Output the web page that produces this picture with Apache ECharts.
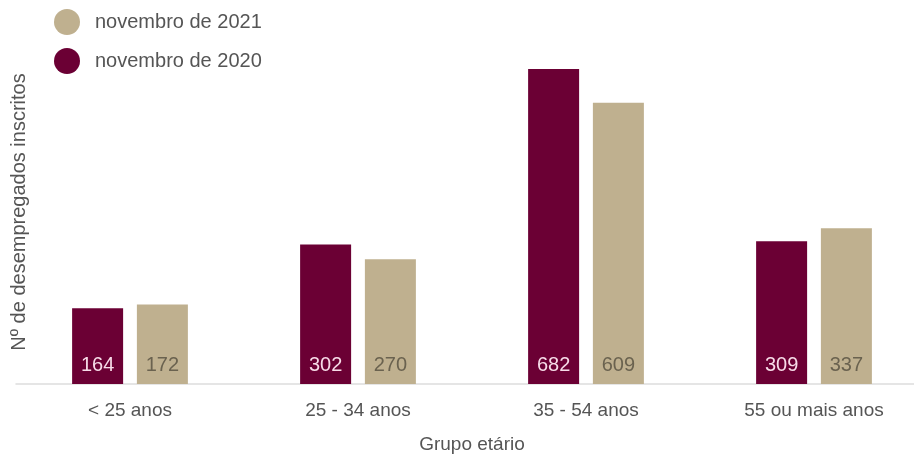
<!DOCTYPE html>
<html>
<head>
<meta charset="utf-8">
<script src="https://cdn.jsdelivr.net/npm/echarts@6/dist/echarts.min.js"></script>
<style>
  html, body { margin: 0; padding: 0; background: #fff; }
  #chart { width: 914px; height: 454px; }
</style>
</head>
<body>
<div id="chart"></div>
<script>
// Registered unemployed by age group
const categories = ['< 25 anos', '25 - 34 anos', '35 - 54 anos', '55 ou mais anos'];
const values2020 = [164, 302, 682, 309];
const values2021 = [172, 270, 609, 337];
const name2020 = 'novembro de 2020';
const name2021 = 'novembro de 2021';

const FONT = '"Liberation Sans", Arial, sans-serif';
const chart = echarts.init(document.getElementById('chart'), null, { renderer: 'canvas' });

chart.setOption({
  animation: false,
  textStyle: { fontFamily: FONT },
  legend: {
    data: [name2021, name2020],
    orient: 'vertical',
    left: 54,
    top: 9,
    padding: 0,
    icon: 'circle',
    itemWidth: 26,
    itemHeight: 26,
    itemGap: 13,
    textStyle: { fontSize: 20, color: '#555', fontFamily: FONT, padding: [0, 0, 0, 10] }
  },
  grid: { left: 16, right: -14, top: 69, bottom: 70, outerBoundsMode: 'none', containLabel: false },
  xAxis: {
    type: 'category',
    data: categories,
    name: 'Grupo etário',
    nameLocation: 'middle',
    nameGap: 51,
    nameTextStyle: { fontSize: 19, color: '#555', fontFamily: FONT },
    axisLine: { lineStyle: { color: '#dddddd', width: 1.5 } },
    axisTick: { show: false },
    axisLabel: { fontSize: 19, color: '#555', margin: 17, fontFamily: FONT }
  },
  yAxis: {
    type: 'value',
    min: 0,
    max: 682,
    show: false
  },
  graphic: [{
    type: 'text',
    x: 19,
    y: 212,
    rotation: Math.PI / 2,
    style: {
      text: 'Nº de desempregados inscritos',
      fill: '#555',
      font: '20px ' + FONT,
      align: 'center',
      verticalAlign: 'middle'
    }
  }],
  series: [
    {
      name: name2020,
      type: 'bar',
      data: values2020,
      barWidth: 51,
      barGap: '27%',
      itemStyle: { color: '#6b0034' },
      label: {
        show: true,
        position: 'insideBottom',
        distance: 9,
        color: '#f7dbe8',
        fontSize: 20,
        fontFamily: FONT
      }
    },
    {
      name: name2021,
      type: 'bar',
      data: values2021,
      barWidth: 51,
      barGap: '27%',
      itemStyle: { color: '#bfb08f' },
      label: {
        show: true,
        position: 'insideBottom',
        distance: 9,
        color: '#6a624f',
        fontSize: 20,
        fontFamily: FONT
      }
    }
  ]
});
</script>
</body>
</html>
